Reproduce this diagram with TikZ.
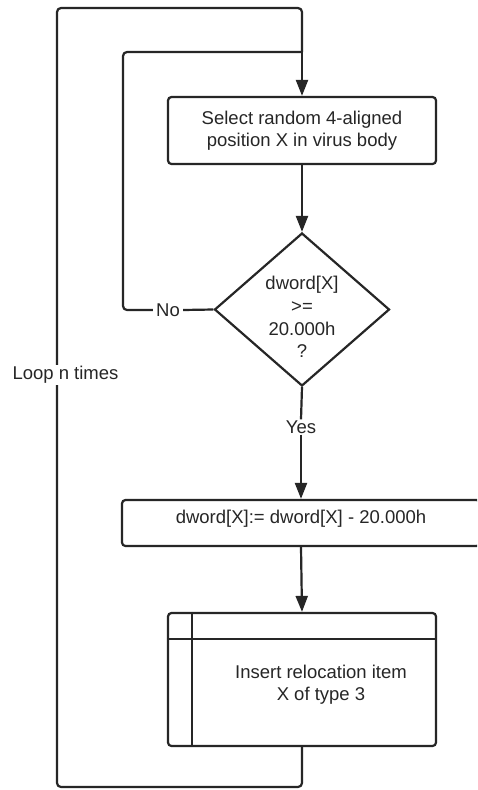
\documentclass[tikz,border=0pt]{standalone}
\usepackage{fontspec}
\setmainfont{Liberation Sans}
\usetikzlibrary{shapes.geometric,arrows.meta,calc}

\tikzset{
  flow/.style={line width=2.2pt, line join=round, draw=black!85},
  arr/.style={flow, -{Triangle[length=16pt,width=12pt]}},
  procbox/.style={draw=black!85, line width=2.2pt, rounded corners=3.5pt, inner sep=0pt},
  decbox/.style={draw=black!85, line width=2.2pt, diamond, inner sep=0pt,
    minimum width=175pt, minimum height=153pt},
  txt/.style={font=\fontsize{18.5pt}{22pt}\selectfont, align=center, inner sep=1pt, text=black!85},
  lbl/.style={txt, fill=white, inner sep=3pt},
}

\begin{document}
\begin{tikzpicture}[x=1pt, y=-1pt]
  \clip (0,0) rectangle (477,790);
  \fill[white] (0,0) rectangle (477,790);

  % process: choose position
  \node[procbox, minimum width=268pt, minimum height=67pt, txt] (box1) at (302,130.5)
    {Select random 4-aligned\\position X in virus body};

  % decision
  \node[decbox] (dec) at (302,309.5) {};
  \node[txt, font=\fontsize{18.5pt}{22.7pt}\selectfont] (dectxt) at (302,317)
    {dword[X]\\>=\\20.000h\\?};

  % process: subtract
  \node[procbox, minimum width=358pt, minimum height=46pt] (box2) at (301,523) {};
  \node[txt] (box2txt) at (301,519) {dword[X]:= dword[X] - 20.000h};

  % storage: relocation item
  \node[procbox, minimum width=268pt, minimum height=133pt] (box3) at (302,679.5) {};
  \draw[flow] ($(box3.north west)+(25,0)$) -- ($(box3.south west)+(25,0)$);
  \draw[flow] ($(box3.north west)+(0,27)$) -- ($(box3.north east)+(0,27)$);
  \node[txt] (box3txt) at (321,685) {Insert relocation item\\X of type 3};

  % labels
  \node[lbl] (no) at (168,310) {No};
  \node[lbl, inner ysep=1pt] (yes) at (301,427) {Yes};

  % connectors
  \coordinate (join) at (302,52);
  \coordinate (outbl) at (57,787);
  \coordinate (outtl) at (57,8);
  \coordinate (inl) at (123,52);

  \draw[flow, rounded corners=4pt] (box3.south) |- (outbl) -- (outtl) -| (join);
  \draw[flow] (dec.west) -- (no.east);
  \draw[flow, rounded corners=4pt] (no.west) -| (inl) -- (join);
  \draw[arr] (join) -- (box1.north);
  \draw[arr] (box1.south) -- (dec.north);
  \draw[flow] (dec.south) -- (yes.north);
  \draw[arr] (yes.south) -- (box2.north);
  \draw[arr] (box2.south) -- (box3.north);

  \node[lbl, inner ysep=1pt] (loop) at (65.5,375) {Loop n times};
\end{tikzpicture}
\end{document}
